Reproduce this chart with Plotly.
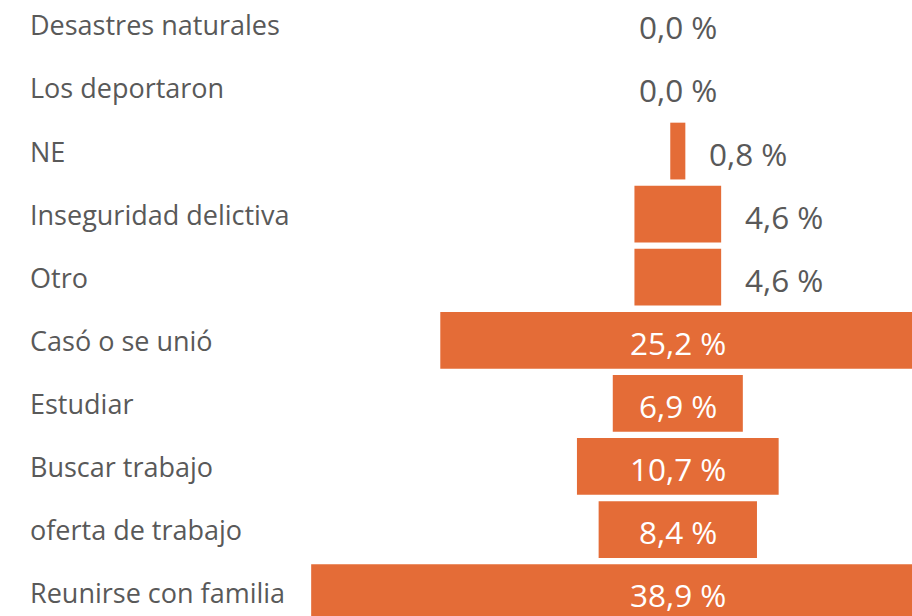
import plotly.graph_objects as go

categories = ["Desastres naturales", "Los deportaron", "NE", "Inseguridad delictiva", "Otro",
              "Casó o se unió", "Estudiar", "Buscar trabajo", "oferta de trabajo", "Reunirse con familia"]
values = [0.0, 0.0, 0.8, 4.6, 4.6, 25.2, 6.9, 10.7, 8.4, 38.9]

BAR = "#E46C37"
GRAY = "#595959"
FONT = "Open Sans"
FS_LABEL = 27
FS_VALUE = 31.5

labels = [f"{v:.1f} %".replace(".", ",") for v in values]
inside = [v >= 6 for v in values]

fig = go.Figure()
fig.add_trace(go.Funnel(
    y=categories, x=values, marker=dict(color=BAR, line=dict(width=0)),
    textinfo="none", hoverinfo="skip", connector=dict(visible=False),
))

# value labels
PX_PER_UNIT = 18.85
GAP = 22 / PX_PER_UNIT
for c, v, ins, lab in zip(categories, values, inside, labels):
    if ins or v == 0:
        x, anchor = 0.0, "center"
    else:
        x, anchor = v / 2 + GAP, "left"
    fig.add_annotation(x=x, xref="x", y=c, yref="y", text=lab, showarrow=False,
                       xanchor=anchor, yanchor="middle", yshift=-2,
                       font=dict(family=FONT, size=FS_VALUE, color="white" if ins else GRAY))

for c in categories:
    fig.add_annotation(x=28 / 912, xref="paper", y=c, yref="y", text=c, showarrow=False,
                       xanchor="left", yanchor="middle",
                       font=dict(family=FONT, size=FS_LABEL, color=GRAY))

center_px = 677.8
pitch = 63.08
top_center = 24.9
fig.update_layout(
    width=912, height=616, margin=dict(l=0, r=0, t=0, b=0),
    paper_bgcolor="white", plot_bgcolor="white", showlegend=False,
    funnelgap=0.1,
    xaxis=dict(range=[-center_px / PX_PER_UNIT, (912 - center_px) / PX_PER_UNIT],
               visible=False, fixedrange=True),
    yaxis=dict(range=[(616 - top_center) / pitch, -top_center / pitch], visible=False,
               categoryorder="array", categoryarray=categories, fixedrange=True),
)
fig.write_html("out.html", config={"displayModeBar": False},
               post_script="document.body.style.margin='0';document.body.style.overflow='hidden';")
